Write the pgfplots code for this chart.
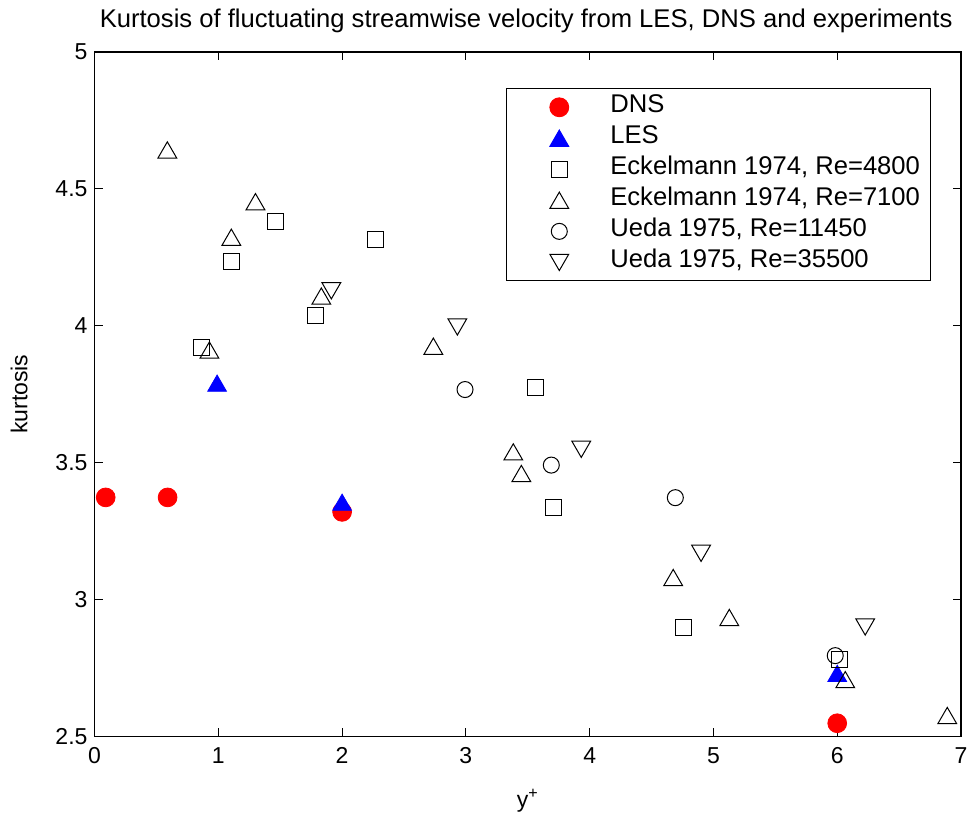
\documentclass[border=0pt]{standalone}
\usepackage{pgfplots}
\pgfplotsset{compat=1.18}
\usepackage{fontspec}
\setmainfont{Liberation Sans}
\begin{document}
\begin{tikzpicture}
\begin{axis}[
  scale only axis,
  width=433pt, height=342pt,
  xmin=0, xmax=7, ymin=2.5, ymax=5,
  xtick={0,1,...,7},
  ytick={2.5,3,3.5,4,4.5,5},
  tick align=inside,
  major tick length=4pt,
  axis line style={line width=0.6pt},
  every tick/.style={black, line width=0.5pt},
  /pgf/number format/assume math mode=true,
  tick label style={font=\fontsize{11.5}{13}\selectfont},
  xticklabel style={yshift=-2pt},
  every axis title shift=0pt,
  title={Kurtosis of fluctuating streamwise velocity from LES, DNS and experiments},
  title style={at={(axis description cs:0.4981,1.045)}, anchor=center, font=\fontsize{12.8}{14}\selectfont},
  xlabel={y\textsuperscript{+}},
  xlabel style={at={(axis description cs:0.5,-0.094)}, anchor=center, font=\fontsize{11.5}{13}\selectfont},
  ylabel={kurtosis},
  ylabel style={at={(axis description cs:-0.087,0.5)}, anchor=center, font=\fontsize{11.5}{13}\selectfont},
  legend style={at={(axis description cs:0.4746,0.947)}, anchor=north west,
    draw=black, line width=0.5pt, font=\fontsize{12.8}{14}\selectfont,
    inner xsep=5pt, inner ysep=1.5pt, row sep=0pt, column sep=0pt,
    nodes={inner sep=0pt, text height=10.5pt, text depth=5pt}},
  legend cell align=left,
  legend image code/.code={\path[draw=none] (0pt,0pt) -- (47pt,0pt);
    \draw[#1] plot coordinates {(21.5pt,0pt)};},
  clip=false,
]
\addplot[only marks, mark=*, mark size=4.7pt, color=red, mark options={draw=red, fill=red}]
  coordinates {(0.09,3.373) (0.59,3.373) (2.0,3.32) (6.0,2.548)};
\addlegendentry{DNS}
\addplot[only marks, mark=triangle*, mark size=5.4pt, color=blue, mark options={draw=blue, fill=blue, yshift=-1.3pt}]
  coordinates {(0.99,3.79) (2.0,3.355) (6.0,2.73)};
\addlegendentry{LES}
\addplot[only marks, mark=square, mark size=4pt, black, mark options={line width=0.5pt}]
  coordinates {(0.863,3.92) (1.105,4.235) (1.46,4.381) (2.268,4.315) (1.784,4.038)
               (3.56,3.775) (3.706,3.336) (4.756,2.898) (6.016,2.781)};
\addlegendentry{Eckelmann 1974, Re=4800}
\addplot[only marks, mark=triangle, mark size=5.4pt, black, mark options={line width=0.5pt, yshift=-1.3pt}]
  coordinates {(0.588,4.642) (1.30,4.453) (1.105,4.323) (0.928,3.911) (1.832,4.108)
               (2.737,3.925) (3.383,3.539) (3.448,3.46) (4.675,3.08) (5.128,2.934)
               (6.065,2.707) (6.889,2.576)};
\addlegendentry{Eckelmann 1974, Re=7100}
\addplot[only marks, mark=o, mark size=4pt, black, mark options={line width=0.5pt}]
  coordinates {(2.993,3.767) (3.69,3.491) (4.692,3.372) (5.984,2.795)};
\addlegendentry{Ueda 1975, Re=11450}
\addplot[only marks, mark=triangle, mark size=5.4pt, black, mark options={line width=0.5pt, rotate=180, yshift=-1.3pt}]
  coordinates {(1.913,4.128) (2.931,3.996) (3.932,3.549) (4.90,3.169) (6.226,2.9)};
\addlegendentry{Ueda 1975, Re=35500}
\end{axis}
\pgfresetboundingbox
\path ([shift={(-47.25pt,-40pt)}]current axis.south west) rectangle ([shift={(6.5pt,26pt)}]current axis.north east);
\end{tikzpicture}
\end{document}
